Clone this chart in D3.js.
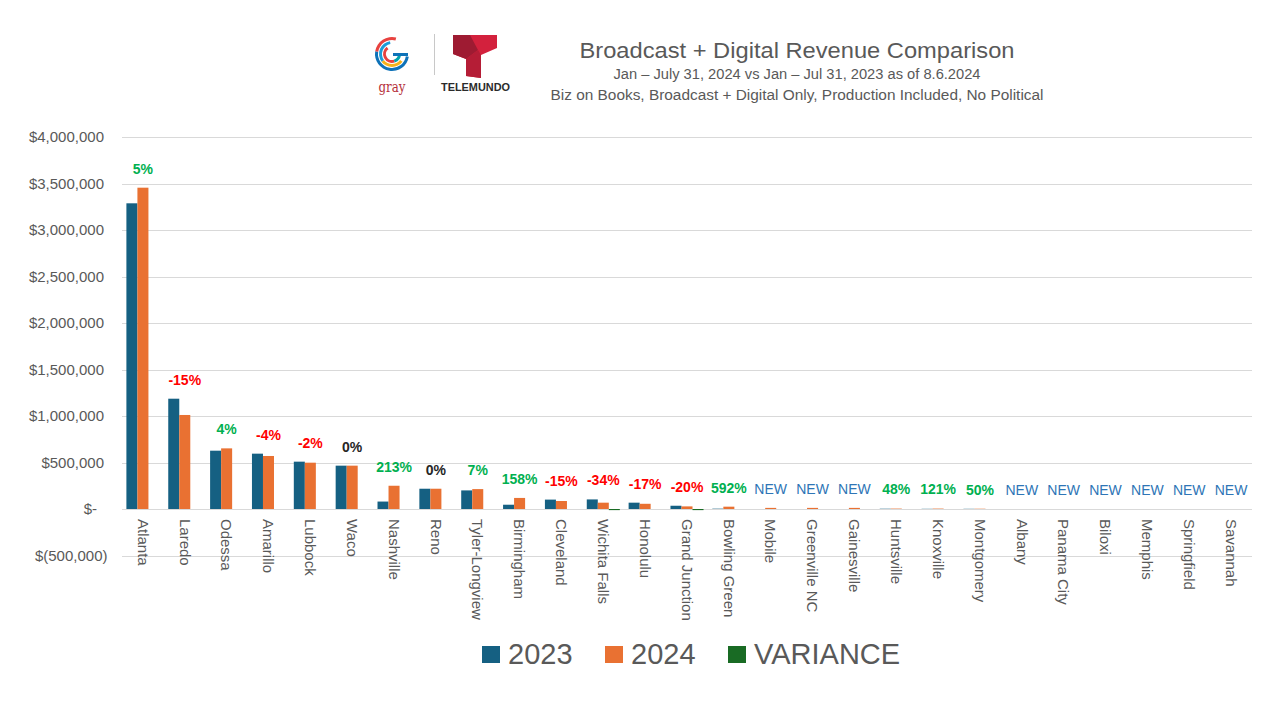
<!DOCTYPE html>
<html><head><meta charset="utf-8">
<script src="https://cdn.jsdelivr.net/npm/d3@7"></script>
<style>
html,body{margin:0;padding:0;background:#fff;}
svg{display:block;font-family:"Liberation Sans",Arial,sans-serif;}
</style></head>
<body>
<svg id="chart" width="1280" height="720"></svg>
<script>
const categories = ["Atlanta","Laredo","Odessa","Amarillo","Lubbock","Waco","Nashville","Reno","Tyler-Longview","Birmingham","Cleveland","Wichita Falls","Honolulu","Grand Junction","Bowling Green","Mobile","Greenville NC","Gainesville","Huntsville","Knoxville","Montgomery","Albany","Panama City","Biloxi","Memphis","Springfield","Savannah"];
const values2023 = [3287000,1186000,627000,595000,509000,466000,80000,218000,200000,46000,101000,103000,68000,35000,3600,0,0,0,3000,2000,2000,0,0,0,0,0,0];
const values2024 = [3455000,1011000,652000,570000,498000,466000,250000,218000,214000,119000,86000,68000,56000,28000,25000,12000,12000,12000,4400,4400,3000,0,0,0,0,0,0];
const variance = [0,0,0,0,0,0,0,0,0,0,0,-12000,0,-12000,0,0,0,0,0,0,0,0,0,0,0,0,0];
const changeLabels = ["5%","-15%","4%","-4%","-2%","0%","213%","0%","7%","158%","-15%","-34%","-17%","-20%","592%","NEW","NEW","NEW","48%","121%","50%","NEW","NEW","NEW","NEW","NEW","NEW"];
const yTicks = [-500000,0,500000,1000000,1500000,2000000,2500000,3000000,3500000,4000000];
const seriesNames = ["2023","2024","VARIANCE"];
const seriesColors = ["#156082","#E97132","#196B24"];
const titleText = "Broadcast + Digital Revenue Comparison";
const subtitle1 = "Jan \u2013 July 31, 2024 vs Jan \u2013 Jul 31, 2023 as of 8.6.2024";
const subtitle2 = "Biz on Books, Broadcast + Digital Only, Production Included,  No Political";

const svg = d3.select("#chart");
const left = 122, right = 1252;
const y = d3.scaleLinear().domain([-500000,4000000]).range([555.5,137]);
const x0 = d3.scaleBand().domain(categories).range([left,right]).padding(0);
const x1 = d3.scaleBand().domain(seriesNames).range([4.4, x0.bandwidth()-4.4]).padding(0);
const series = [values2023, values2024, variance];

// gridlines
svg.append("g").selectAll("line").data(yTicks).join("line")
  .attr("x1",left).attr("x2",right)
  .attr("y1",d=>Math.round(y(d))+0.5).attr("y2",d=>Math.round(y(d))+0.5)
  .attr("stroke","#D9D9D9").attr("stroke-width",1);

// y axis labels
const fmt = d3.format(",");
svg.append("g").selectAll("text").data(yTicks).join("text")
  .attr("x",d=> d===0 ? 97 : (d<0 ? 107.5 : 104))
  .attr("y",d=>y(d)).attr("dy","0.35em")
  .attr("text-anchor","end").attr("font-size",15).attr("fill","#595959")
  .text(d=> d===0 ? "$-" : d<0 ? "$(" + fmt(-d) + ")" : "$" + fmt(d));

// bars
const rows = categories.map((c,i)=>({c, i, vals: series.map((s,k)=>({k, name: seriesNames[k], v: s[i]}))}));
const groups = svg.append("g").selectAll("g").data(rows).join("g")
  .attr("transform",d=>`translate(${x0(d.c)},0)`);
groups.selectAll("rect").data(d=>d.vals.filter(v=>v.v!==0)).join("rect")
  .attr("x",d=>x1(d.name)).attr("width",x1.bandwidth())
  .attr("y",d=>Math.min(y(d.v),y(0)))
  .attr("height",d=>Math.abs(y(d.v)-y(0)))
  .attr("fill",d=>seriesColors[d.k]);

// change labels
function labelColor(t){
  if(t==="NEW") return "#2E75B6";
  if(t==="0%") return "#262626";
  return t.startsWith("-") ? "#FF0000" : "#00B050";
}
svg.append("g").selectAll("text").data(rows).join("text")
  .attr("x",d=>x0(d.c)+x0.bandwidth()/2)
  .attr("y",d=>y(Math.max(values2023[d.i],values2024[d.i],0))-19)
  .attr("dy","0.35em").attr("text-anchor","middle").attr("font-size",14)
  .attr("font-weight",d=>changeLabels[d.i]==="NEW"?"normal":"bold")
  .attr("fill",d=>labelColor(changeLabels[d.i]))
  .text(d=>changeLabels[d.i]);

// category labels
svg.append("g").selectAll("text").data(categories).join("text")
  .attr("transform",d=>`translate(${x0(d)+x0.bandwidth()/2},519) rotate(90)`)
  .attr("dy","0.35em").attr("font-size",15).attr("fill","#595959")
  .text(d=>d);

// legend
const legX = [482,605,728];
const leg = svg.append("g").selectAll("g").data(seriesNames).join("g")
  .attr("transform",(d,i)=>`translate(${legX[i]},646)`);
leg.append("rect").attr("width",18).attr("height",17).attr("fill",(d,i)=>seriesColors[i]);
leg.append("text").attr("x",26).attr("y",18).attr("font-size",29).attr("fill","#595959").text(d=>d);

// titles
svg.append("text").attr("x",797).attr("y",58).attr("text-anchor","middle")
  .attr("font-size",22).attr("fill","#595959")
  .attr("textLength",435).attr("lengthAdjust","spacingAndGlyphs").text(titleText);
svg.append("text").attr("x",797).attr("y",79).attr("text-anchor","middle")
  .attr("font-size",14).attr("fill","#595959")
  .attr("textLength",367).attr("lengthAdjust","spacingAndGlyphs").text(subtitle1);
svg.append("text").attr("x",797).attr("y",100).attr("text-anchor","middle")
  .attr("font-size",14).attr("fill","#595959")
  .attr("textLength",493).attr("lengthAdjust","spacingAndGlyphs").text(subtitle2);

// logos
const logo = svg.append("g");
const arc = d3.arc();
const gArcs = [
  {r0:14,r1:17,a0:0.55*Math.PI,a1:1.55*Math.PI,c:"#0E72B8"},
  {r0:14,r1:17,a0:1.55*Math.PI,a1:2.08*Math.PI,c:"#E8423F"},
  {r0:10,r1:13,a0:0.7*Math.PI,a1:1.3*Math.PI,c:"#F5B21B"},
  {r0:10,r1:13,a0:1.3*Math.PI,a1:1.95*Math.PI,c:"#1E9BD7"},
  {r0:6,r1:9,a0:0.9*Math.PI,a1:1.8*Math.PI,c:"#E8423F"},
  {r0:6,r1:9,a0:0.5*Math.PI,a1:0.9*Math.PI,c:"#00A3AD"}
];
logo.selectAll("path.g").data(gArcs).join("path")
  .attr("transform","translate(392,54)")
  .attr("d",d=>arc({innerRadius:d.r0,outerRadius:d.r1,startAngle:d.a0,endAngle:d.a1}))
  .attr("fill",d=>d.c);
logo.append("rect").attr("x",393).attr("y",53).attr("width",15).attr("height",3).attr("fill","#0E72B8");
logo.append("text").attr("x",392).attr("y",92).attr("text-anchor","middle")
  .attr("font-family","DejaVu Serif, serif").attr("font-size",15).attr("fill","#B5303A")
  .attr("textLength",27).attr("lengthAdjust","spacingAndGlyphs").text("gray");
logo.append("line").attr("x1",434.5).attr("x2",434.5).attr("y1",34).attr("y2",75)
  .attr("stroke","#C8C8C8").attr("stroke-width",1);
logo.append("path").attr("d","M453,35 L497,35 L497,48 L481,55 L481,78 L466,76 L466,59 L453,54 Z").attr("fill","#D3213D");
logo.append("path").attr("d","M453,35 L470,35 L478,50 L466,59 L453,54 Z").attr("fill","#9E1B32");
logo.append("path").attr("d","M466,59 L478,50 L481,55 L481,78 L466,76 Z").attr("fill","#B51D36");
logo.append("text").attr("x",475.5).attr("y",91).attr("text-anchor","middle")
  .attr("font-size",10).attr("font-weight","bold").attr("fill","#2B2B2B")
  .attr("textLength",69).attr("lengthAdjust","spacingAndGlyphs").text("TELEMUNDO");
</script>
</body></html>
